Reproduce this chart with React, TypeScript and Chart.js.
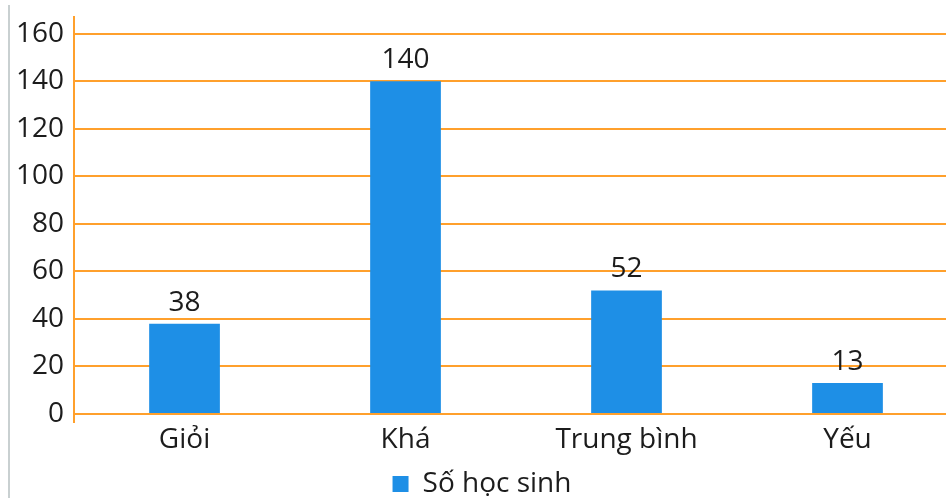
import React, { useEffect, useRef } from "react";
import { Chart, registerables } from "chart.js";

Chart.register(...registerables);

const categories = ["Giỏi", "Khá", "Trung bình", "Yếu"];
const values = [38, 140, 52, 13];
const seriesName = "Số học sinh";
const yTicks = [0, 20, 40, 60, 80, 100, 120, 140, 160];

const ORANGE = "#ffa02c";
const BLUE = "#1e8fe6";
const TEXT = "#1c1c1c";
const FONT = "'Open Sans', 'Noto Sans', sans-serif";
const FS = 28;

const valueLabels = {
  id: "valueLabels",
  afterDatasetsDraw(chart: any) {
    const ctx = chart.ctx;
    const meta = chart.getDatasetMeta(0);
    ctx.save();
    ctx.fillStyle = TEXT;
    ctx.font = `${FS}px ${FONT}`;
    ctx.textAlign = "center";
    ctx.textBaseline = "bottom";
    meta.data.forEach((bar: any, i: number) => {
      ctx.fillText(String(values[i]), bar.x, bar.y - 7);
    });
    ctx.restore();
  },
};

export default function App() {
  const ref = useRef<HTMLCanvasElement>(null);
  useEffect(() => {
    if (!ref.current) return;
    const chart = new Chart(ref.current, {
      type: "bar",
      data: {
        labels: categories,
        datasets: [
          {
            label: seriesName,
            data: values,
            backgroundColor: BLUE,
            borderWidth: 0,
            barPercentage: 0.32,
            categoryPercentage: 1,
          },
        ],
      },
      plugins: [valueLabels],
      options: {
        responsive: false,
        animation: false,
        devicePixelRatio: 1,
        layout: { padding: { left: 6, right: 0, top: 17, bottom: -10 } },
        plugins: {
          legend: {
            position: "bottom",
            labels: {
              color: TEXT,
              font: { family: FONT, size: FS },
              boxWidth: 16,
              boxHeight: 16,
              padding: 4,
            },
          },
          tooltip: { enabled: false },
        },
        scales: {
          x: {
            offset: true,
            afterFit: (s: any) => {
              s.height = 52;
            },
            grid: {
              offset: true,
              drawOnChartArea: false,
              drawTicks: true,
              tickLength: 9,
              lineWidth: 2,
              color: (c: any) => (c.index === 0 ? ORANGE : "transparent"),
            },
            border: { display: true, color: ORANGE, width: 2 },
            ticks: {
              color: TEXT,
              font: { family: FONT, size: FS },
              padding: 0,
            },
          },
          y: {
            min: 0,
            max: 167,
            afterBuildTicks: (s: any) => {
              s.ticks = yTicks.map((v) => ({ value: v }));
            },
            afterFit: (s: any) => {
              s.paddingTop = 0;
            },
            grid: {
              color: ORANGE,
              lineWidth: 2,
              drawTicks: false,
            },
            border: { display: true, color: ORANGE, width: 2 },
            ticks: {
              color: TEXT,
              font: { family: FONT, size: FS },
              padding: 10,
            },
          },
        },
      },
    });
    return () => chart.destroy();
  }, []);

  return (
    <div
      style={{
        position: "fixed",
        left: 0,
        top: 0,
        width: 946,
        height: 498,
        overflow: "hidden",
        background: "#fff",
      }}
    >
      <div
        style={{
          position: "absolute",
          left: 8,
          top: 5,
          width: 0,
          height: 493,
          borderLeft: "2px solid #c9d0d1",
        }}
      />
      <canvas
        ref={ref}
        width={958}
        height={498}
        style={{ position: "absolute", left: 0, top: 0, width: 958, height: 498 }}
      />
    </div>
  );
}
